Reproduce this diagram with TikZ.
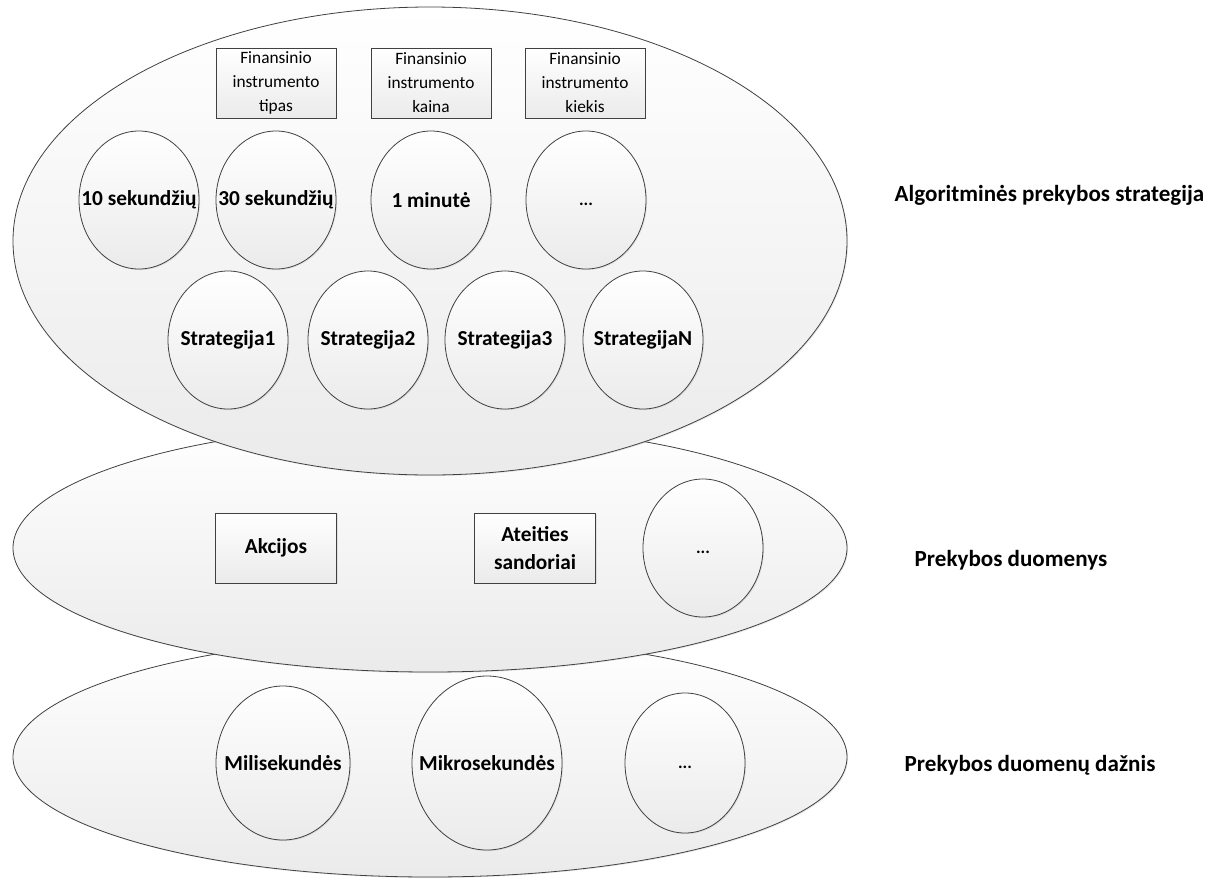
\documentclass[tikz,border=0pt]{standalone}
\usepackage{fontspec}
\setmainfont{Carlito}
\usetikzlibrary{positioning,shapes.geometric,shadows}

\newcommand{\oneline}[1]{\makebox[0pt]{#1}}

\tikzset{
  soft/.style={drop shadow={opacity=0.18,shadow xshift=0.8pt,shadow yshift=-0.8pt}},
  layer/.style={ellipse,draw=black!75,line width=0.6pt,top color=white,bottom color=black!8,inner sep=0pt,minimum width=625.5pt,soft},
  oval/.style={ellipse,draw=black!75,line width=0.6pt,top color=white,bottom color=black!8,inner sep=0pt,minimum width=90pt,minimum height=103.5pt,font=\bfseries\fontsize{16}{19}\selectfont,soft},
  dots/.style={oval,font=\bfseries\fontsize{13}{15}\selectfont,text height=7.5pt,text depth=0pt},
  tag/.style={rectangle,draw=black!75,line width=0.6pt,top color=white,bottom color=black!8,inner sep=0pt,minimum width=90pt,minimum height=52.5pt,align=center,soft},
  side/.style={anchor=west,font=\bfseries\fontsize{17.3}{20}\selectfont}
}

\begin{document}
\begin{tikzpicture}[x=0.75pt,y=-0.75pt]
  \useasboundingbox (0,0) rectangle (1211,879);

  % layers, lowest first
  \node[layer,minimum height=180pt] (daznis) at (430,757) {};
  \node[layer,minimum height=186pt] (duomenys) at (430,548) {};
  \node[layer,minimum height=351pt] (strategija) at (430,241) {};

  \node[tag,font=\fontsize{13}{18}\selectfont] (tipas) at (276,83) {Finansinio\\instrumento\\tipas};
  \node[tag,font=\fontsize{13}{18}\selectfont] (kaina) at (431,83) {Finansinio\\instrumento\\kaina};
  \node[tag,font=\fontsize{13}{18}\selectfont] (kiekis) at (585,83) {Finansinio\\instrumento\\kiekis};

  \node[oval] (sek10) at (139,200) {\oneline{10 sekundžių}};
  \node[oval] (sek30) at (276,200) {\oneline{30 sekundžių}};
  \node[oval] (min1) at (431,200) {\oneline{1 minutė}};
  \node[dots] (laikas) at (586,200) {...};

  \node[oval] (str1) at (228,340) {\oneline{Strategija1}};
  \node[oval] (str2) at (368,340) {\oneline{Strategija2}};
  \node[oval] (str3) at (505,340) {\oneline{Strategija3}};
  \node[oval] (strN) at (643,340) {\oneline{StrategijaN}};

  \node[tag,minimum width=91pt,font=\bfseries\fontsize{16}{21}\selectfont] (akcijos) at (276,548) {Akcijos};
  \node[tag,minimum width=91pt,font=\bfseries\fontsize{16}{21}\selectfont] (ateities) at (535,548) {Ateities\\sandoriai};
  \node[dots] (kita) at (703,548) {...};

  \node[oval,minimum width=100.5pt,minimum height=115.5pt] (mili) at (283,763) {\oneline{Milisekundės}};
  \node[oval,minimum width=112.5pt,minimum height=130.5pt] (mikro) at (487,763) {\oneline{Mikrosekundės}};
  \node[dots,minimum height=105pt] (kitas) at (685,763) {...};

  \node[side] (lblstrategija) at (890,195) {Algoritminės prekybos strategija};
  \node[side] (lblduomenys) at (910,560) {Prekybos duomenys};
  \node[side] (lbldaznis) at (900,765) {Prekybos duomenų dažnis};
\end{tikzpicture}
\end{document}
